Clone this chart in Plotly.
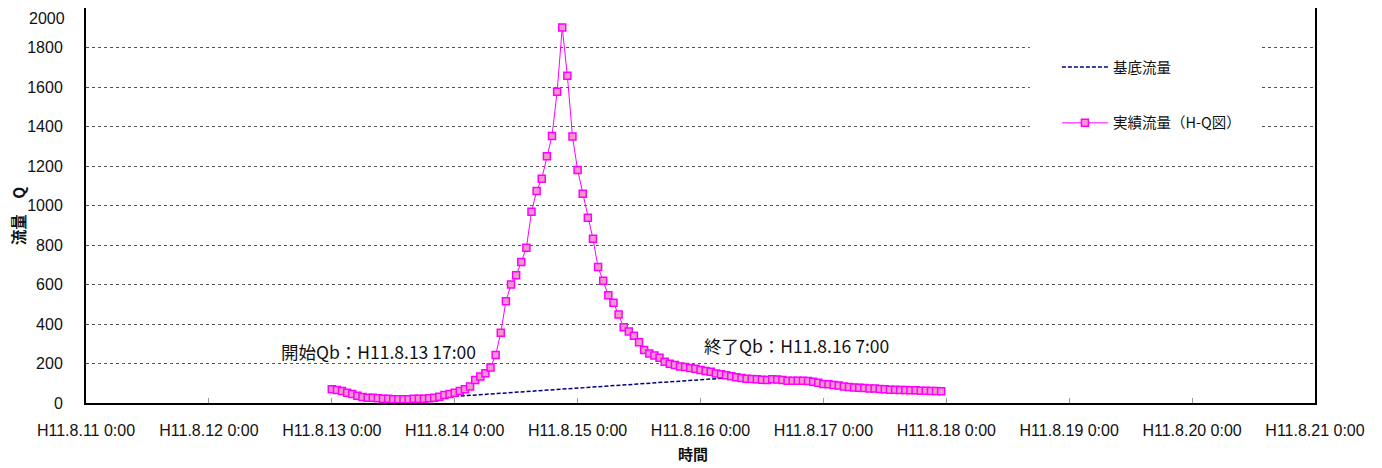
import pandas as pd
import plotly.graph_objects as go

# ---- data ----
tick_dates = ["1999-08-11", "1999-08-12", "1999-08-13", "1999-08-14", "1999-08-15", "1999-08-16",
              "1999-08-17", "1999-08-18", "1999-08-19", "1999-08-20", "1999-08-21"]
tick_labels = ["H11.8.11 0:00", "H11.8.12 0:00", "H11.8.13 0:00", "H11.8.14 0:00", "H11.8.15 0:00",
               "H11.8.16 0:00", "H11.8.17 0:00", "H11.8.18 0:00", "H11.8.19 0:00", "H11.8.20 0:00",
               "H11.8.21 0:00"]
y_ticks = [0, 200, 400, 600, 800, 1000, 1200, 1400, 1600, 1800, 2000]

obs_start = "1999-08-13 00:00"
obs_q = [69, 66, 61, 52, 46, 37, 31, 27, 26, 24, 22, 21, 19, 19, 19, 19, 21, 21, 22, 24,
         27, 32, 40, 46, 52, 61, 69, 83, 117, 134, 151, 180, 243, 356, 515, 600, 647, 714,
         786, 968, 1074, 1136, 1249, 1352, 1576, 1901, 1657, 1350, 1180, 1060, 938, 832,
         688, 619, 545, 508, 448, 383, 362, 340, 307, 268, 251, 240, 229, 209, 199, 192,
         185, 182, 177, 174, 167, 162, 158, 150, 146, 141, 135, 130, 126, 123, 122, 120,
         118, 116, 120, 119, 116, 113, 113, 113, 113, 111, 108, 103, 96, 95, 91, 88, 84,
         81, 79, 77, 76, 74, 73, 71, 69, 67, 67, 66, 66, 64, 64, 62, 62, 61, 61, 59]
obs_x = pd.date_range(obs_start, periods=len(obs_q), freq="h")

base_x = ["1999-08-13 17:00", "1999-08-16 07:00"]
base_q = [21, 130]

name_base = "基底流量"
name_obs = "実績流量（H-Q図）"
ann_start = "開始Qb：H11.8.13 17:00"
ann_end = "終了Qb：H11.8.16 7:00"
x_title = "時間"
y_title = "流量　Q"

JP = "Noto Sans CJK JP, sans-serif"
NUM = "Liberation Sans, Arial, sans-serif"

fig = go.Figure()
fig.add_trace(go.Scatter(
    x=base_x, y=base_q, mode="lines", name=name_base,
    line=dict(color="#000080", width=1.5, dash="4px,2px"),
    legendgroup="a"))
fig.add_trace(go.Scatter(
    x=obs_x, y=obs_q, mode="lines+markers", name=name_obs,
    line=dict(color="#FF00FF", width=1),
    marker=dict(symbol="square", size=7, color="#F396CC",
                line=dict(color="#FF00FF", width=1.5)),
    legendgroup="b"))

fig.add_shape(type="rect", xref="paper", yref="y", x0=0.768, x1=0.955, y0=1300, y1=1960,
              fillcolor="white", line=dict(width=0), layer="above")

fig.add_annotation(text=ann_start, xref="paper", yref="paper", x=0.157, y=0.1316,
                   xanchor="left", yanchor="middle", showarrow=False,
                   font=dict(family=JP, size=17.5, color="#111"))
fig.add_annotation(text=ann_end, xref="paper", yref="paper", x=0.5012, y=0.1468,
                   xanchor="left", yanchor="middle", showarrow=False,
                   font=dict(family=JP, size=17.5, color="#111"))
fig.add_annotation(text="<b>" + x_title + "</b>", xref="paper", yref="paper", x=0.494, y=-0.127,
                   xanchor="center", yanchor="middle", showarrow=False,
                   font=dict(family=JP, size=15, color="#111"))
fig.add_annotation(text="<b>" + y_title + "</b>", xref="paper", yref="paper", x=-0.0553, y=0.473,
                   xanchor="center", yanchor="middle", showarrow=False, textangle=-90,
                   font=dict(family=JP, size=15.5, color="#111"))
# top tick label (kept inside the page so it is not clipped)
fig.add_annotation(text=str(y_ticks[-1]), xref="paper", yref="y", x=-0.0155, y=y_ticks[-1],
                   xanchor="right", yanchor="top", showarrow=False,
                   font=dict(family=NUM, size=16, color="#111"))

fig.update_layout(
    width=1366, height=460,
    margin=dict(l=78, r=59, t=0, b=65, autoexpand=False),
    paper_bgcolor="white", plot_bgcolor="white",
    showlegend=True,
    legend=dict(x=0.790, y=0.891, xanchor="left", yanchor="top",
                bgcolor="rgba(0,0,0,0)", borderwidth=0, itemwidth=46,
                font=dict(family=JP, size=14.5, color="#111"),
                traceorder="grouped", tracegroupgap=34),
    xaxis=dict(type="date", range=["1999-08-11", "1999-08-21"],
               tickmode="array", tickvals=tick_dates, ticktext=tick_labels,
               ticks="inside", ticklen=5, tickcolor="#999", tickwidth=1,
               showgrid=False, zeroline=False,
               showline=True, linecolor="black", linewidth=2, mirror=True,
               tickfont=dict(family=NUM, size=16, color="#111"),
               ticklabelstandoff=12, ticklabeloverflow="allow"),
    yaxis=dict(range=[0, 2000], tickmode="array", tickvals=y_ticks[:-1],
               showgrid=True, gridcolor="#555", griddash="dot", gridwidth=1,
               zeroline=False, ticks="",
               showline=True, linecolor="black", linewidth=2, mirror=True,
               tickfont=dict(family=NUM, size=16, color="#111"),
               ticklabelstandoff=18, ticklabeloverflow="allow"),
)

fig.write_html("out.html")
